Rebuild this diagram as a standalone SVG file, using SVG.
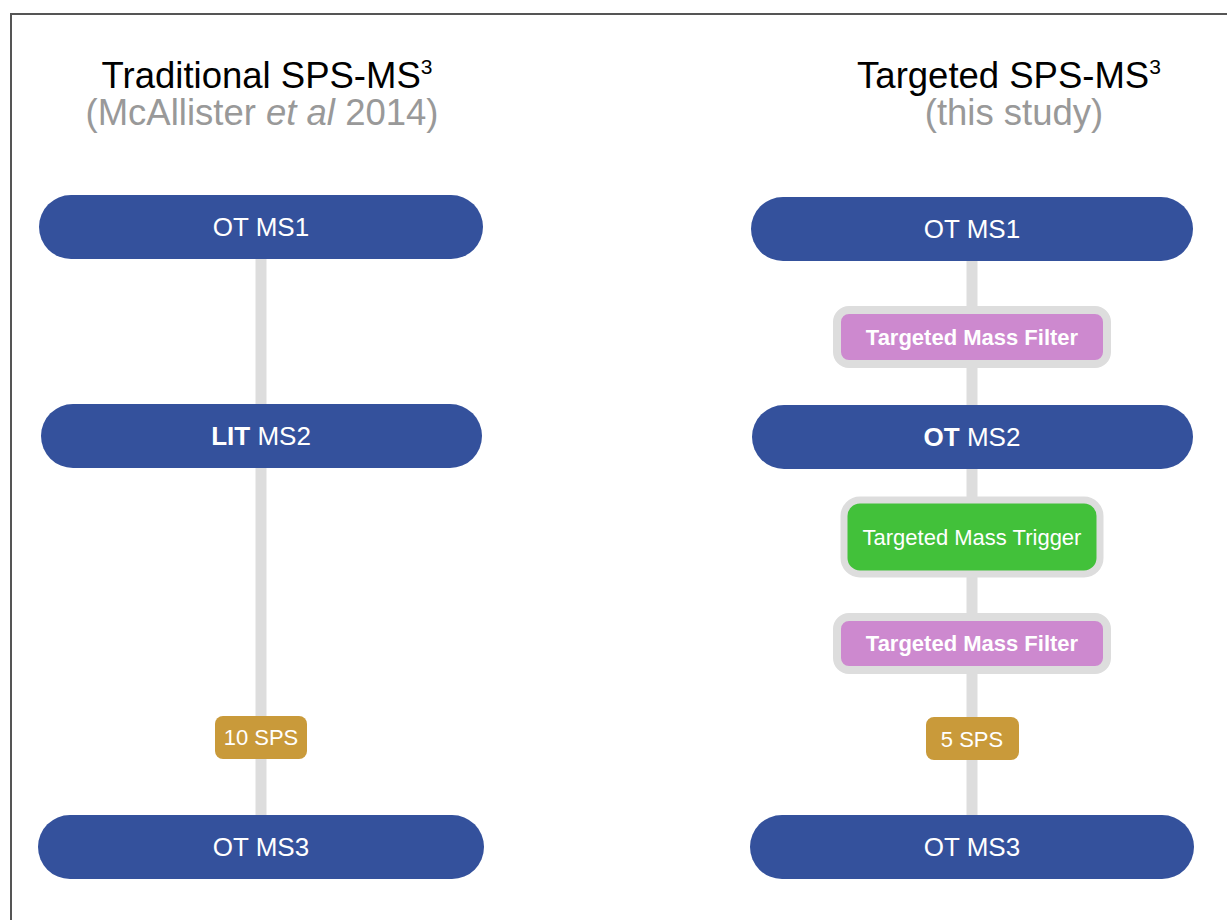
<svg xmlns="http://www.w3.org/2000/svg" width="1227" height="920" viewBox="0 0 1227 920">
<style>
.t{font-family:"Liberation Sans",Arial,sans-serif;text-anchor:middle}
.title{font-size:36.5px;fill:#000}
.sub{font-size:36.5px;fill:#999}
.lbl{font-size:26px;fill:#fff}
.sm{font-size:22px;fill:#fff}
.blue{fill:#34519C}
.pink{fill:#CD89CF;stroke:#DDDDDD;stroke-width:8}
.green{fill:#42C13A;stroke:#DDDDDD;stroke-width:7}
.gold{fill:#C99A3A}
.conn{stroke:#DDDDDD;stroke-width:11;fill:none}
</style>
<rect x="0" y="0" width="1227" height="920" fill="#fff"/>
<path d="M1240 14 H11 V930" fill="none" stroke="#555" stroke-width="2"/>
<g id="titles">
<text class="t title" x="267" y="88">Traditional SPS-MS<tspan font-size="21" dy="-14">3</tspan></text>
<text class="t sub" x="262" y="125">(McAllister <tspan font-style="italic">et al</tspan> 2014)</text>
<text class="t title" x="1009" y="88">Targeted SPS-MS<tspan font-size="21" dy="-14">3</tspan></text>
<text class="t sub" x="1014" y="125">(this study)</text>
</g>
<g id="connectors">
<line class="conn" x1="261" y1="259" x2="261" y2="815"/>
<line class="conn" x1="972" y1="261" x2="972" y2="815"/>
</g>
<g id="left-ms1"><rect class="blue" x="39" y="195" width="444" height="64" rx="32"/><text class="t lbl" x="261" y="236">OT MS1</text></g>
<g id="left-ms2"><rect class="blue" x="41" y="404" width="441" height="64" rx="32"/><text class="t lbl" x="261" y="445"><tspan font-weight="bold">LIT</tspan> MS2</text></g>
<g id="left-sps"><rect class="gold" x="215" y="716" width="92" height="43" rx="8"/><text class="t sm" x="261" y="745">10 SPS</text></g>
<g id="left-ms3"><rect class="blue" x="38" y="815" width="446" height="64" rx="32"/><text class="t lbl" x="261" y="856">OT MS3</text></g>
<g id="right-ms1"><rect class="blue" x="751" y="197" width="442" height="64" rx="32"/><text class="t lbl" x="972" y="238">OT MS1</text></g>
<g id="right-filter1"><rect class="pink" x="837" y="310" width="270" height="54" rx="12"/><text class="t sm" x="972" y="345" font-weight="bold">Targeted Mass Filter</text></g>
<g id="right-ms2"><rect class="blue" x="752" y="405" width="441" height="64" rx="32"/><text class="t lbl" x="972" y="446"><tspan font-weight="bold">OT</tspan> MS2</text></g>
<g id="right-trigger"><rect class="green" x="844" y="500" width="256" height="74" rx="16"/><text class="t sm" x="972" y="545">Targeted Mass Trigger</text></g>
<g id="right-filter2"><rect class="pink" x="837" y="617" width="270" height="53" rx="12"/><text class="t sm" x="972" y="651" font-weight="bold">Targeted Mass Filter</text></g>
<g id="right-sps"><rect class="gold" x="926" y="717" width="93" height="43" rx="8"/><text class="t sm" x="972" y="747">5 SPS</text></g>
<g id="right-ms3"><rect class="blue" x="750" y="815" width="444" height="64" rx="32"/><text class="t lbl" x="972" y="856">OT MS3</text></g>
</svg>
